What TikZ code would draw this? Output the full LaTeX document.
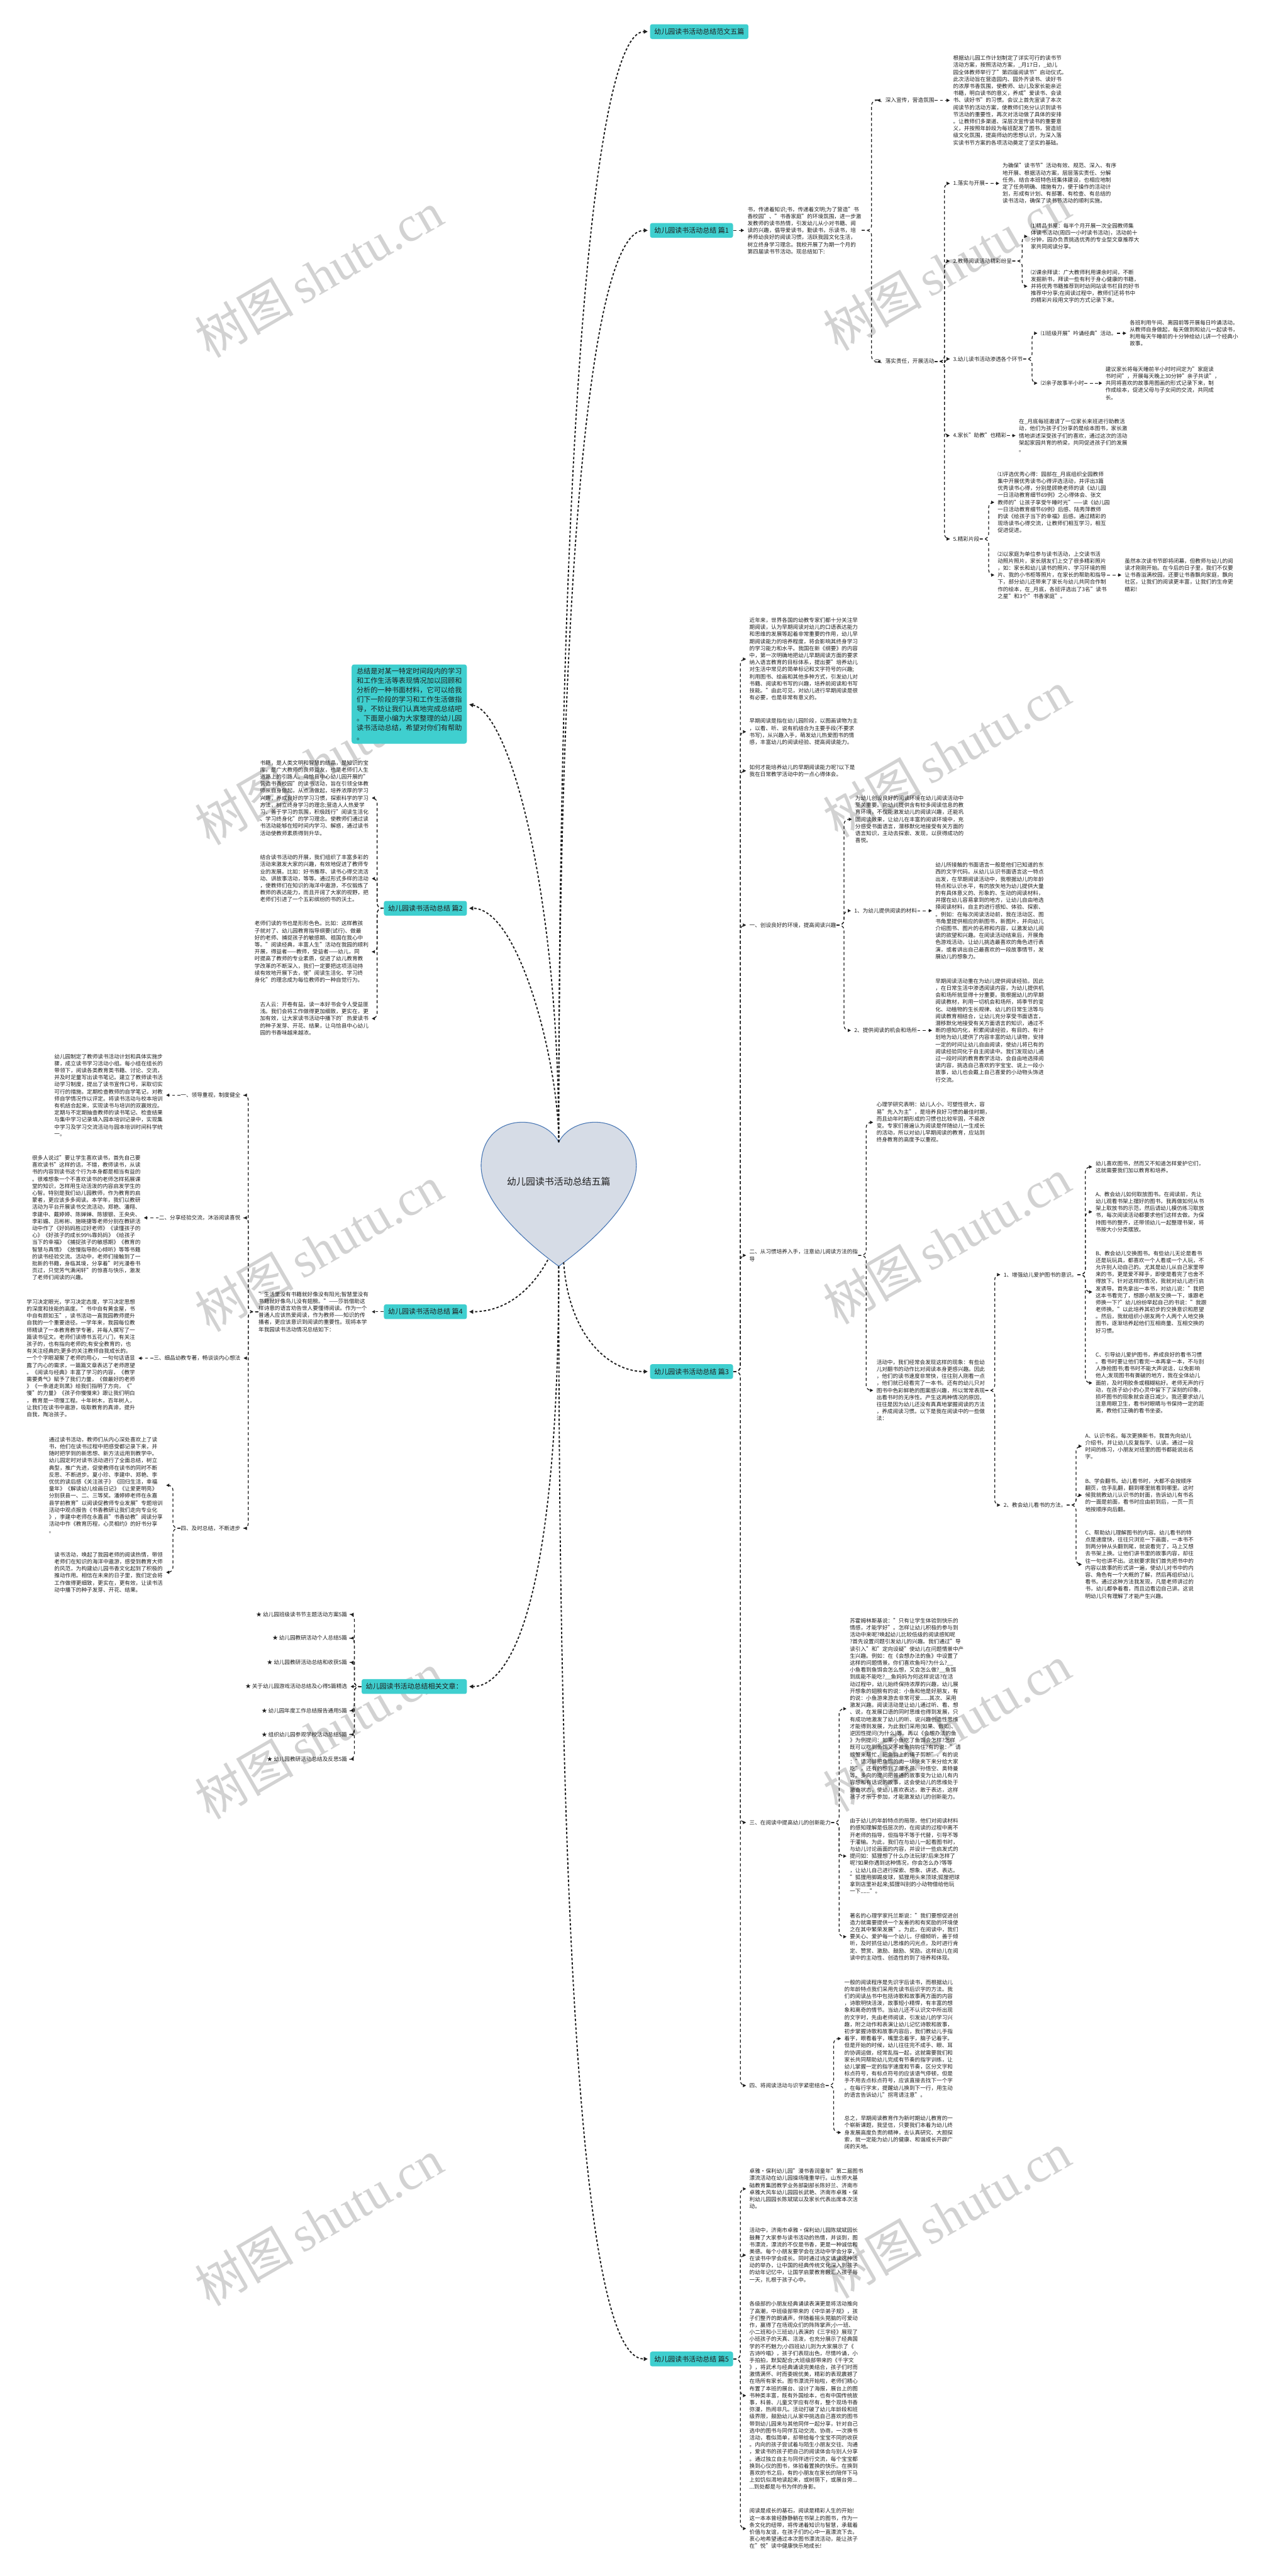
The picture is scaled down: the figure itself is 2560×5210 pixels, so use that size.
\documentclass[tikz,border=0pt]{standalone}
\usepackage{fontspec}
\setmainfont{Noto Sans CJK SC}
\newfontfamily\wmfont{Liberation Serif}
\usetikzlibrary{arrows.meta}
\definecolor{ink}{HTML}{1E1E1E}
\definecolor{topicbg}{HTML}{3FCFCF}
\definecolor{heartbg}{HTML}{D6DCE6}
\definecolor{heartln}{HTML}{4A78B5}
\definecolor{wmgray}{HTML}{D2D2D2}
\tikzset{
  body/.style={font=\fontsize{2.74pt}{3.56pt}\selectfont, text=ink, align=left, inner sep=0pt},
  rtxt/.style={body, anchor=west},
  ltxt/.style={body, anchor=east},
  topic/.style={fill=topicbg, rounded corners=1pt, text=ink, font=\fontsize{3.5pt}{4.2pt}\selectfont, inner xsep=2.1pt, inner ysep=2.1pt},
  link/.style={draw=ink, line width=0.4pt, dash pattern=on 1.5pt off 1.2pt, rounded corners=2.5pt, shorten >=1.5pt, -{Triangle[length=1.6pt,width=1.6pt]}},
  trunk/.style={draw=ink, line width=0.6pt, dash pattern=on 1.2pt off 1pt, shorten >=1pt, -{Triangle[length=2pt,width=2pt]}},
  rbr/.style={to path={-- ++(#1,0) |- (\tikztotarget)}},
  lbr/.style={to path={-- ++(-#1,0) |- (\tikztotarget)}},
  wm/.style={text=wmgray, rotate=30, font=\fontsize{25pt}{30pt}\selectfont},
}

\begin{document}
\begin{tikzpicture}[x=0.25pt, y=-0.25pt]
  \useasboundingbox (0,0) rectangle (2560,5210);
  \fill[white] (0,0) rectangle (2560,5210);
  % watermark
  \foreach \wy in {540,1525,2510,3495,4480} {
    \node[wm] at (1915,\wy) {树图\,{\wmfont shutu.cn}};
    \node[wm] at (645,\wy+15) {树图\,{\wmfont shutu.cn}};
  }

  % heart
  \coordinate (htop) at (1130,2310);
  \coordinate (hbot) at (1130,2561);
  \coordinate (hbl) at (1108,2548);
  \coordinate (hbr) at (1140,2553);
  \filldraw[fill=heartbg, draw=heartln, line width=0.35pt] (htop)
    .. controls (1100,2250) and (975,2250) .. (973,2357)
    .. controls (973,2430) and (1060,2510) .. (hbot)
    .. controls (1200,2510) and (1287,2430) .. (1287,2357)
    .. controls (1285,2250) and (1160,2250) .. cycle;
  \node[text=ink, font=\fontsize{4.75pt}{5.7pt}\selectfont] (hub) at (1130,2390) {幼儿园读书活动总结五篇};

  % main topics
  \node[topic, anchor=west] (t0) at (1314,64) {幼儿园读书活动总结范文五篇};
  \node[topic, anchor=west] (t1) at (1314,466) {幼儿园读书活动总结 篇1};
  \node[topic, anchor=west] (t3) at (1314,2774) {幼儿园读书活动总结 篇3};
  \node[topic, anchor=west] (t5) at (1314,4771) {幼儿园读书活动总结 篇5};
  \node[topic, anchor=east] (t2) at (945,1837) {幼儿园读书活动总结 篇2};
  \node[topic, anchor=east] (t4) at (945,2653) {幼儿园读书活动总结 篇4};
  \node[topic, anchor=east] (rel) at (945,3411) {幼儿园读书活动总结相关文章：};
  \node[topic, anchor=east, align=left, font=\fontsize{3.55pt}{4.75pt}\selectfont, inner xsep=2.5pt, inner ysep=1.8pt, rounded corners=1.2pt] (sum) at (945,1424) {总结是对某一特定时间段内的学习\\和工作生活等表现情况加以回顾和\\分析的一种书面材料，它可以给我\\们下一阶段的学习和工作生活做指\\导，不妨让我们认真地完成总结吧\\。下面是小编为大家整理的幼儿园\\读书活动总结，希望对你们有帮助\\。};

  \draw[trunk] (htop) .. controls (1130,900) and (1200,64) .. (t0.west);
  \draw[trunk] (htop) .. controls (1130,1200) and (1190,466) .. (t1.west);
  \draw[trunk] (htop) .. controls (1130,1800) and (1030,1440) .. (sum.east);
  \draw[trunk] (htop) .. controls (1130,2150) and (1050,1837) .. (t2.east);
  \draw[trunk] (hbl) .. controls (1080,2600) and (1030,2653) .. (t4.east);
  \draw[trunk] (hbot) .. controls (1130,3250) and (1030,3411) .. (rel.east);
  \draw[trunk] (hbr) .. controls (1150,2700) and (1230,2774) .. (t3.west);
  \draw[trunk] (hbot) .. controls (1130,4500) and (1230,4771) .. (t5.west);

  % 篇1
  \node[rtxt] (p1) at (1511,466) {书，传递着知识;书，传递着文明;为了营造"书\\香校园"、"书香家庭"的环境氛围，进一步激\\发教师的读书热情，引发幼儿从小对书籍、阅\\读的兴趣，倡导爱读书，勤读书，乐读书，培\\养师幼良好的阅读习惯，活跃我园文化生活，\\树立终身学习理念。我校开展了为期一个月的\\第四届读书节活动。现总结如下:};
  \node[rtxt] (p1a) at (1768,203) {一、深入宣传，营造氛围};
  \node[rtxt] (p1b) at (1768,731) {二、落实责任，开展活动};
  \node[rtxt] (p1at) at (1927,203) {根据幼儿园工作计划制定了详实可行的读书节\\活动方案，按照活动方案，\_月17日，\_幼儿\\园全体教师举行了"第四届阅读节"启动仪式。\\此次活动旨在营造园内、园外齐读书、读好书\\的浓厚书香氛围，使教师、幼儿及家长能亲近\\书籍，明白读书的意义，养成"爱读书、会读\\书、读好书"的习惯。会议上首先宣读了本次\\阅读节的活动方案，使教师们充分认识到读书\\节活动的重要性，再次对活动做了具体的安排\\。让教师们多渠道、深层次宣传读书的重要意\\义，并按照年龄段为每班配发了图书，营造班\\级文化氛围，提高师幼的思想认识，为深入落\\实读书节方案的各项活动奠定了坚实的基础。};
  \node[rtxt] (b1) at (1927,371) {1.落实与开展};
  \node[rtxt] (b1t) at (2027,371) {为确保"读书节"活动有效、规范、深入、有序\\地开展、根据活动方案，层层落实责任、分解\\任务。结合本班特色班集体建设，也相应地制\\定了任务明确、措施有力，便于操作的活动计\\划，形成有计划、有部署、有检查、有总结的\\读书活动，确保了读书节活动的顺利实施。};
  \node[rtxt] (b2) at (1927,528) {2.教师阅读活动精彩纷呈};
  \node[rtxt] (b2a) at (2084,478) {⑴精品书屋：每半个月开展一次全园教师集\\体读书活动(周四一小时读书活动)，活动前十\\分钟，园办负责挑选优秀的专业型文章推荐大\\家共同阅读分享。};
  \node[rtxt] (b2b) at (2084,579) {⑵课余拜读：广大教师利用课余时间，不断\\发掘新书，拜读一些有利于身心健康的书籍，\\并将优秀书籍推荐到时幼网站读书栏目的好书\\推荐中分享;在阅读过程中，教师们还将书中\\的精彩片段用文字的方式记录下来。};
  \node[rtxt] (b3) at (1927,726) {3.幼儿读书活动渗透各个环节};
  \node[rtxt] (b3a) at (2104,674) {⑴班级开展"吟诵经典"活动。};
  \node[rtxt] (b3at) at (2284,674) {各班利用午间、离园前等开展每日吟诵活动。\\从教师自身做起，每天做到和幼儿一起读书，\\利用每天午睡前的十分钟给幼儿讲一个经典小\\故事。};
  \node[rtxt] (b3b) at (2104,775) {⑵亲子故事半小时};
  \node[rtxt] (b3bt) at (2235,775) {建议家长将每天睡前半小时时间定为"家庭读\\书时间"，开展每天晚上30分钟"亲子共读"，\\共同将喜欢的故事用图画的形式记录下来，制\\作成绘本，促进父母与子女间的交流，共同成\\长。};
  \node[rtxt] (b4) at (1927,881) {4.家长"助教"也精彩};
  \node[rtxt] (b4t) at (2060,881) {在\_月底每班邀请了一位家长来班进行助教活\\动，他们为孩子们分享的是绘本图书，家长激\\情地讲述深受孩子们的喜欢，通过这次的活动\\架起家园共育的桥梁，共同促进孩子们的发展\\。};
  \node[rtxt] (b5) at (1927,1090) {5.精彩片段};
  \node[rtxt] (b5a) at (2017,1016) {⑴评选优秀心得：园部在\_月底组织全园教师\\集中开展优秀读书心得评选活动，并评出3篇\\优秀读书心得，分别是顾艳老师的读《幼儿园\\一日活动教育细节69例》之心得体会、张文\\教师的"让孩子享受午睡时光"——读《幼儿园\\一日活动教育细节69例》后感、陆秀萍教师\\的读《给孩子当下的幸福》后感。通过精彩的\\现场读书心得交流，让教师们相互学习，相互\\促进促进。};
  \node[rtxt] (b5b) at (2017,1163) {⑵以家庭为单位参与读书活动，上交读书活\\动照片照片，家长朋友们上交了很多精彩照片\\，如：家长和幼儿读书的照片、学习环境的照\\片、我的小书柜等照片，在家长的帮助和指导\\下，部分幼儿还带来了家长与幼儿共同合作制\\作的绘本，在\_月底，各班评选出了3名"读书\\之星"和3个"书香家庭"。};
  \node[rtxt] (b5c) at (2274,1163) {虽然本次读书节即将闭幕，但教师与幼儿的阅\\读才刚刚开始。在今后的日子里，我们不仅要\\让书香溢满校园，还要让书香飘向家庭，飘向\\社区，让我们的阅读更丰富，让我们的生命更\\精彩!};

  \draw[link] (t1.east) -- (p1.west);
  \foreach \kid in {p1a,p1b} \draw[link] (p1.east) to[rbr=20] (\kid.west);
  \draw[link] (p1a.east) -- (p1at.west);
  \foreach \kid in {b1,b2,b3,b4,b5} \draw[link] (p1b.east) to[rbr=20] (\kid.west);
  \draw[link] (b1.east) -- (b1t.west);
  \foreach \kid in {b2a,b2b} \draw[link] (b2.east) to[rbr=20] (\kid.west);
  \foreach \kid in {b3a,b3b} \draw[link] (b3.east) to[rbr=18] (\kid.west);
  \draw[link] (b3a.east) -- (b3at.west);
  \draw[link] (b3b.east) -- (b3bt.west);
  \draw[link] (b4.east) -- (b4t.west);
  \foreach \kid in {b5a,b5b} \draw[link] (b5.east) to[rbr=18] (\kid.west);
  \draw[link] (b5b.east) -- (b5c.west);

  % 篇3
  \node[rtxt] (c1) at (1515,1333) {近年来，世界各国的幼教专家们都十分关注早\\期阅读，认为早期阅读对幼儿的口语表达能力\\和思维的发展等起着非常重要的作用，幼儿早\\期阅读能力的培养程度，将会影响其终身学习\\的学习能力和水平。我国在新《纲要》的内容\\中，第一次明确地把幼儿早期阅读方面的要求\\纳入语言教育的目标体系，提出要"培养幼儿\\对生活中常见的简单标记和文字符号的兴趣;\\利用图书、绘画和其他多种方式，引发幼儿对\\书籍、阅读和书写的兴趣，培养前阅读和书写\\技能。"由此可见，对幼儿进行早期阅读是很\\有必要，也是非常有意义的。};
  \node[rtxt] (c2) at (1515,1480) {早期阅读是指在幼儿园阶段，以图画读物为主\\，以看、听、说有机结合为主要手段(不要求\\书写)，从兴趣入手，萌发幼儿热爱图书的情\\感，丰富幼儿的阅读经验、提高阅读能力。};
  \node[rtxt] (c3) at (1515,1559) {如何才能培养幼儿的早期阅读能力呢?以下是\\我在日常教学活动中的一点心得体会。};
  \node[rtxt] (c4) at (1515,1871) {一、创设良好的环境，提高阅读兴趣};
  \node[rtxt] (c4a) at (1729,1657) {为幼儿创设良好的阅读环境在幼儿阅读活动中\\至关重要。向幼儿提供含有较多阅读信息的教\\育环境，不仅能激发幼儿的阅读兴趣，还能巩\\固阅读效果，让幼儿在丰富的阅读环境中，充\\分感受书面语言，潜移默化地接受有关方面的\\语言知识，主动去探索、发现，以获得成功的\\喜悦。};
  \node[rtxt] (c4b) at (1727,1842) {1、为幼儿提供阅读的材料};
  \node[rtxt] (c4bt) at (1891,1842) {幼儿所接触的书面语言一般是他们已知道的东\\西的文字代码。从幼儿认识书面语言这一特点\\出发，在早期阅读活动中，我根据幼儿的年龄\\特点和认识水平，有的放矢地为幼儿提供大量\\的有具体意义的、形象的、生动的阅读材料，\\并摆在幼儿容易拿到的地方，让幼儿自由地选\\择阅读材料，自主的进行感知、体验、探索、\\。例如：在每次阅读活动前，我在活动区、图\\书角里提供相应的新图书，新图片，并向幼儿\\介绍图书、图片的名称和内容，以激发幼儿阅\\读的欲望和兴趣。在阅读活动结束后，开展角\\色游戏活动，让幼儿挑选最喜欢的角色进行表\\演，或者讲出自己最喜欢的一段故事情节，发\\展幼儿的想象力。};
  \node[rtxt] (c4c) at (1727,2084) {2、提供阅读的机会和场所};
  \node[rtxt] (c4ct) at (1891,2084) {早期阅读活动重在为幼儿提供阅读经验。因此\\，在日常生活中渗透阅读内容，为幼儿提供机\\会和场所就显得十分重要。我根据幼儿的早期\\阅读教材，利用一切机会和场所，将季节的变\\化、动植物的生长规律、幼儿的日常生活等与\\阅读教育相结合，让幼儿充分享受书面语言，\\潜移默化地接受有关方面语言的知识，通过不\\断的感知内化，积累阅读经验，有目的、有计\\划地为幼儿提供了内容丰富的幼儿读物，安排\\一定的时间让幼儿自由阅读，使幼儿将已有的\\阅读经验同化于自主阅读中。我们发现幼儿通\\过一段时间的教育教学活动，会自由地选择阅\\读内容，挑选自己喜欢的字宝宝、说上一段小\\故事，幼儿也会戴上自己喜爱的小动物头饰进\\行交流。};
  \node[rtxt] (c5) at (1515,2539) {二、从习惯培养入手，注意幼儿阅读方法的指\\导};
  \node[rtxt] (c5a) at (1772,2270) {心理学研究表明：幼儿人小，可塑性很大，容\\易"先入为主"，是培养良好习惯的最佳时期，\\而且幼年时期形成的习惯也比较牢固，不易改\\变。专家们普遍认为阅读是伴随幼儿一生成长\\的活动，所以对幼儿早期阅读的教育，应站到\\终身教育的高度予以重视。};
  \node[rtxt] (c5b) at (1772,2812) {活动中，我们经常会发现这样的现象：有些幼\\儿对翻书的动作比对阅读本身更感兴趣。因此\\，他们的读书速度非常快，往往别人刚看一点\\，他们就已经看完了一本书。还有的幼儿只对\\图书中色彩鲜艳的图案感兴趣，所以常常表现\\出看书时的无序性。产生这两种情况的原因，\\往往是因为幼儿还没有真真地掌握阅读的方法\\，养成阅读习惯。以下是我在阅读中的一些做\\法：};
  \node[rtxt] (c6) at (2029,2578) {1、增强幼儿爱护图书的意识。};
  \node[rtxt] (c6a) at (2215,2360) {幼儿喜欢图书，然而又不知道怎样爱护它们，\\这就需要我们加以教育和培养。};
  \node[rtxt] (c6b) at (2215,2451) {A、教会幼儿如何取放图书。在阅读前，先让\\幼儿观看书架上摆好的图书，我再做如何从书\\架上取放书的示范，然后请幼儿模仿练习取放\\书，每次阅读活动都要求他们这样去做。为保\\持图书的整齐，还带领幼儿一起整理书架，将\\书按大小分类摆放。};
  \node[rtxt] (c6c) at (2215,2613) {B、教会幼儿交换图书。有些幼儿无论是看书\\还是玩玩具，都喜欢一个人看或一个人玩，不\\允许别人动自己的。尤其是幼儿从自己家里带\\来的书，更是爱不释手，即使是看完了也舍不\\得放下。针对这样的情况，我就对幼儿进行启\\发诱导。首先拿出一本书，对幼儿说："我把\\这本书看完了，想跟小朋友交换一下，谁跟老\\师换一下?"幼儿纷纷举起自己的书说："我跟\\老师换。"以此培养其初步的交换意识和愿望\\。然后，我就组织小朋友两个人两个人地交换\\图书，逐渐培养起他们互相商量、互相交换的\\好习惯。};
  \node[rtxt] (c6d) at (2215,2797) {C、引导幼儿爱护图书，养成良好的看书习惯\\。看书时要让他们看完一本再拿一本，不与别\\人挣抢图书;看书时不能大声说话，以免影响\\他人;发现图书有撕破的地方，我在全体幼儿\\面前，及时用胶条或糨糊粘好。老师无声的行\\动，在孩子幼小的心灵中留下了深刻的印象，\\损坏图书的现象就会逐日减少。我还要求幼儿\\注意用眼卫生，看书时眼睛与书保持一定的距\\离，教他们正确的看书坐姿。};
  \node[rtxt] (c7) at (2029,3044) {2、教会幼儿看书的方法。};
  \node[rtxt] (c7a) at (2194,2925) {A、认识书名。每次更换新书，我首先向幼儿\\介绍书，并让幼儿反复指字、认读。通过一段\\时间的练习，小朋友对班里的图书都能说出名\\字。};
  \node[rtxt] (c7b) at (2194,3024) {B、学会翻书。幼儿看书时，大都不会按顺序\\翻页，信手乱翻，翻到哪里就看到哪里。这时\\候我就教幼儿认识书的封面，告诉幼儿有书名\\的一面是前面，看书时应由前到后，一页一页\\地按顺序向后翻。};
  \node[rtxt] (c7c) at (2194,3164) {C、帮助幼儿理解图书的内容。幼儿看书的特\\点是速度快，往往只浏览一下画面，一本书不\\到两分钟从头翻到尾，就说看完了，马上又想\\去书架上换。让他们讲书里的故事内容，却往\\往一句也讲不出。这就要求我们首先把书中的\\内容以故事的形式讲一遍，使幼儿对书中的内\\容、角色有一个大概的了解，然后再组织幼儿\\看书。通过这种方法我发现，凡是老师讲过的\\书，幼儿都争着看，而且边看边自己讲。这说\\明幼儿只有理解了才能产生兴趣。};
  \node[rtxt] (c8) at (1515,3686) {三、在阅读中提高幼儿的创新能力};
  \node[rtxt] (c8a) at (1718,3456) {苏霍姆林斯基说："只有让学生体验到快乐的\\情感，才能学好"。怎样让幼儿积极的参与到\\活动中来呢?唤起幼儿比较低级的阅读感知呢\\?首先设置问题引发幼儿的兴趣。我们通过"导\\读引入"和"定向设疑"使幼儿在问题情景中产\\生兴趣。例如：在《会想办法的鱼》中设置了\\这样的问题情景。你们喜欢鱼吗?为什么?\_\_\\小鱼看到鱼饵会怎么想，又会怎么做?\_\_鱼饵\\到底能不能吃?\_\_鱼妈妈为何这样说话?在活\\动过程中，幼儿始终保持浓厚的兴趣，幼儿展\\开想象的翅膀有的说：小鱼和他是好朋友，有\\的说：小鱼游来游去非常可爱......其次、采用\\激发兴趣。阅读活动是让幼儿通过听、看、想\\、说，在发展口语的同时思维也得到发展，只\\有成功地激发了幼儿的听、说兴趣创造性思维\\才能得到发展，为此我们采用(如果、假如)、\\逆因性提问(为什么)等。再以《会想办法的鱼\\》为例提问：如果小鱼吃了鱼饵会怎样?怎样\\既可以吃到鱼饵又不被鱼钩钩住?有的说："请\\螃蟹来帮忙，把鱼钩上的绳子剪断"，有的说\\："请河蚌把鱼饵的肉一块块夹下来分给大家\\吃"，还有的想到了潜水员、孙悟空、奥特曼\\等。多向的提问把普通的故事变为让幼儿有内\\容想和有话说的故事，这会使幼儿的思维处于\\激奋状态，使幼儿喜欢表达，敢于表达，这样\\孩子才乐于参加，才能激发幼儿的创新能力。};
  \node[rtxt] (c8b) at (1718,3754) {由于幼儿的年龄特点的局限，他们对阅读材料\\的感知理解是低层次的，在阅读的过程中离不\\开老师的指导，但指导不等于代替，引导不等\\于灌输。为此，我们在与幼儿一起看图书时，\\与幼儿讨论画面的内容，并设计一些启发式的\\提问如：狐狸想了什么办法玩球?后来怎样了\\呢?如果你遇到这种情况，你会怎么办?等等\\，让幼儿自己进行探索、想象、讲述、表达。\\"狐狸用脚踢皮球，狐狸用头来顶球;狐狸把球\\拿到店里补起来;狐狸叫别的小动物借给他玩\\一下......"。};
  \node[rtxt] (c8c) at (1718,3917) {著名的心理学家托兰斯说："我们要想促进创\\造力就需要提供一个友善的和有奖励的环境使\\之在其中繁荣发展"。为此，在阅读中，我们\\要关心、爱护每一个幼儿，仔细倾听，善于倾\\听，及时抓住幼儿思维的闪光点，及时进行肯\\定、赞赏、激励、鼓励、奖励。这样幼儿在阅\\读中的主动性、创造性的到了培养和体现。};
  \node[rtxt] (c9) at (1515,4218) {四、将阅读活动与识字紧密结合};
  \node[rtxt] (c9a) at (1707,4123) {一般的阅读程序是先识字后读书，而根据幼儿\\的年龄特点我们采用先读书后识字的方法。我\\们的阅读丛书中包括诗歌和故事两方面的内容\\，诗歌明快活泼，故事短小精悍，有丰富的想\\象和离奇的情节。当幼儿还不认识文中所出现\\的文字时，先由老师阅读，引发幼儿的学习兴\\趣，附之动作和表演让幼儿记忆诗歌和故事，\\初步掌握诗歌和故事内容后，我们教幼儿手指\\着字，眼看着字，嘴里念着字，脑子记着字。\\但是开始的时候，幼儿往往完不成手、眼、耳\\的协调运做，经常乱指一起，这就需要我们和\\家长共同帮助幼儿完成有节奏的指字训练，让\\幼儿掌握一定的指字速度和节奏，区分文字和\\标点符号，有标点符号的应该语气停顿，但是\\手不用去点标点符号，应该直接去找下一个字\\。在每行字末，提醒幼儿换到下一行，用生动\\的语言告诉幼儿"拐弯请注意"。};
  \node[rtxt] (c9b) at (1707,4313) {总之，早期阅读教育作为新时期幼儿教育的一\\个崭新课题，我坚信，只要我们本着为幼儿终\\身发展高度负责的精神，去认真研究、大胆探\\索，就一定能为幼儿的健康、和谐成长开辟广\\阔的天地。};

  \foreach \kid in {c1,c2,c3,c4,c5,c8,c9} \draw[link] (t3.east) to[rbr=14] (\kid.west);
  \foreach \kid in {c4a,c4b,c4c} \draw[link] (c4.east) to[rbr=15] (\kid.west);
  \draw[link] (c4b.east) -- (c4bt.west);
  \draw[link] (c4c.east) -- (c4ct.west);
  \foreach \kid in {c5a,c5b} \draw[link] (c5.east) to[rbr=16] (\kid.west);
  \foreach \kid in {c6,c7} \draw[link] (c5b.east) to[rbr=19] (\kid.west);
  \foreach \kid in {c6a,c6b,c6c,c6d} \draw[link] (c6.east) to[rbr=16] (\kid.west);
  \foreach \kid in {c7a,c7b,c7c} \draw[link] (c7.east) to[rbr=19] (\kid.west);
  \foreach \kid in {c8a,c8b,c8c} \draw[link] (c8.east) to[rbr=16] (\kid.west);
  \foreach \kid in {c9a,c9b} \draw[link] (c9.east) to[rbr=16] (\kid.west);

  % 篇5
  \node[rtxt] (e1) at (1515,4427) {卓雅·保利幼儿园"漫书香润童年"第二届图书\\漂流活动在幼儿园操场隆重举行。山东师大基\\础教育集团教学业务部副部长陈好兰、济南市\\卓雅大风车幼儿园园长武艳、济南市卓雅·保\\利幼儿园园长陈斌斌以及家长代表出席本次活\\动。};
  \node[rtxt] (e2) at (1515,4561) {活动中，济南市卓雅·保利幼儿园陈斌斌园长\\鼓舞了大家参与读书活动的热情，并谈到，图\\书漂流，漂流的不仅是书香，更是一种诚信和\\美德。每个小朋友要学会在活动中学会分享，\\在读书中学会成长。同时通过诗文诵读这种活\\动的举办，让中国的经典传统文化深入到孩子\\的幼年记忆中，让国学启蒙教育融汇入孩子每\\一天，扎根于孩子心中。};
  \node[rtxt] (e3) at (1515,4845) {各级部的小朋友经典诵读表演更是将活动推向\\了高潮，中班级部带来的《中华弟子规》，孩\\子们整齐的朗诵声，伴随着摇头晃脑的可爱动\\作，赢得了在场观众们的阵阵掌声;小一班、\\小二班和小三班幼儿表演的《三字经》展现了\\小班孩子的天真、活泼，也充分展示了经典国\\学的不朽魅力;小四班幼儿则为大家展示了《\\古诗吟唱》，孩子们表现出色，尽情吟诵，小\\手拍拍，默契配合;大班级部带来的《千字文\\》，将武术与经典诵读完美结合，孩子们时而\\激情满怀、时而委婉优美，精彩的表现震撼了\\在场所有家长。图书漂流开始啦，老师们精心\\布置了本班的展台、设计了海报，展台上的图\\书种类丰富，既有外国绘本，也有中国传统故\\事，科普、儿童文学应有尽有，整个现场书香\\弥漫，热闹非凡。活动打破了幼儿年龄段和班\\级界限，鼓励幼儿从家中挑选自己喜欢的图书\\带到幼儿园来与其他同伴一起分享，针对自己\\选中的图书与同伴互动交流、协商，一次换书\\活动，看似简单，却带给每个宝宝不同的收获\\。内向的孩子尝试着与陌生小朋友交往、沟通\\，爱读书的孩子把自己的阅读体会与别人分享\\。通过独立自主与同伴进行交流，每个宝宝都\\换到心仪的图书，体验着置换的快乐。在换到\\喜欢的书之后，有的小朋友在家长的陪伴下马\\上如饥似渴地读起来，或树荫下，或展台旁...\\...到处都是与书为伴的身影。};
  \node[rtxt] (e4) at (1515,5114) {阅读是成长的基石，阅读是精彩人生的开始!\\这一本本曾经静静躺在书架上的图书，作为一\\条文化的纽带，将传递着知识与智慧，承载着\\价值与友谊，在孩子们的心中一直漂流下去。\\衷心地希望通过本次图书漂流活动，能让孩子\\在"悦"读中健康快乐地成长!};
  \foreach \kid in {e1,e2,e3,e4} \draw[link] (t5.east) to[rbr=14] (\kid.west);

  % 篇2
  \node[ltxt] (k1) at (746,1614) {书籍，是人类文明和智慧的结晶，是知识的宝\\库，是广大教师的良师益友，也是老师们人生\\道路上的引路人。乌恰县中心幼儿园开展的"\\营造书香校园"的读书活动，旨在引领全体教\\师从自身做起，从点滴做起，培养浓厚的学习\\兴趣，养成良好的学习习惯，探索科学的学习\\方法，树立终身学习的理念;营造人人热爱学\\习、善于学习的氛围，积极践行"阅读生活化\\、学习终身化"的学习理念。使教师们通过读\\书活动能够在短时间内学习、解惑，通过读书\\活动使教师素质得到升华。};
  \node[ltxt] (k2) at (746,1777) {结合读书活动的开展，我们组织了丰富多彩的\\活动来激发大家的兴趣，有效地促进了教师专\\业的发展。比如：好书推荐、读书心得交流活\\动、讲故事活动，等等。通过形式多样的活动\\，使教师们在知识的海洋中遨游，不仅锻炼了\\教师的表达能力，而且开阔了大家的视野，把\\老师们引进了一个五彩缤纷的书的沃土。};
  \node[ltxt] (k3) at (746,1925) {老师们读的书也是形形色色。比如：这样教孩\\子就对了、幼儿园教育指导纲要(试行)、做最\\好的老师、捕捉孩子的敏感期、祖国在我心中\\等。"阅读经典，丰富人生"活动在我园的顺利\\开展，得益者——教师，受益者——幼儿，同\\时提高了教师的专业素质，促进了幼儿教育教\\学改革的不断深入，我们一定要把这项活动持\\续有效地开展下去，使"阅读生活化、学习终\\身化"的理念成为每位教师的一种自觉行为。};
  \node[ltxt] (k4) at (746,2060) {古人云：开卷有益。读一本好书会令人受益匪\\浅。我们会将工作做得更加细致，更实在，更\\加有效，让大家读书活动中播下的'热爱读书\\的种子发芽、开花、结果，让乌恰县中心幼儿\\园的书香味越来越浓。};
  \foreach \kid in {k1,k2,k3,k4} \draw[link] (t2.west) to[lbr=13] (\kid.east);

  % 篇4
  \node[ltxt] (m0) at (746,2653) {"生活里没有书籍就好像没有阳光;智慧里没有\\书籍就好像鸟儿没有翅膀。"——莎翁借助这\\样诗意的语言劝告世人要懂得阅读。作为一个\\普通人应该热爱阅读，作为教师——知识的传\\播者，更应该意识到阅读的重要性。现将本学\\年我园读书活动情况总结如下：};
  \node[ltxt] (n1) at (487,2215) {一、领导重视，制度健全};
  \node[ltxt] (n1t) at (330,2215) {幼儿园制定了教师读书活动计划和具体实施步\\骤，成立读书学习活动小组。每小组在组长的\\带领下，阅读各类教育类书籍、讨论、交流，\\并及时足量写出读书笔记。建立了教师读书活\\动学习制度，提出了读书宣传口号，采取切实\\可行的措施。定期检查教师的自学笔记，对教\\师自学情况作以评定。将读书活动与校本培训\\有机结合起来，实现读书与培训的双赢效应。\\定期与不定期抽查教师的读书笔记、检查结果\\与集中学习记录填入园本培训记录中，实现集\\中学习及学习交流活动与园本培训时间科学统\\一。};
  \node[ltxt] (n2) at (487,2463) {二、分享经验交流，沐浴阅读喜悦};
  \node[ltxt] (n2t) at (285,2463) {很多人说过"要让学生喜欢读书，首先自己要\\喜欢读书"这样的话，不错，教师读书，从读\\书的内容到读书这个行为本身都是相当有益的\\。很难想象一个不喜欢读书的老师怎样拓展课\\堂的知识，怎样用生动活泼的内容启发学生的\\心智。特别是我们幼儿园教师，作为教育的启\\蒙者，更应该多多阅读。本学年，我们以教研\\活动为平台开展读书交流活动，郑艳、潘翔、\\李建中、戴婷婷、陈婵婵、陈银银、王央央、\\李彩媚、吕彬彬、施晓捷等老师分别在教研活\\动中作了《好妈妈胜过好老师》《读懂孩子的\\心》《好孩子的成长99\%靠妈妈》《给孩子\\当下的幸福》《捕捉孩子的敏感期》《教育的\\智慧与真情》《放慢指导耐心倾听》等等书籍\\的读书经验交流。活动中，老师们接触到了一\\批新的书籍，身临其境，分享着"时光漫卷书\\页过，只觉芳气满闲轩"的惊喜与快乐，激发\\了老师们阅读的兴趣。};
  \node[ltxt] (n3) at (487,2747) {三、细品幼教专著，畅谈谈内心想法};
  \node[ltxt] (n3t) at (274,2747) {学习决定眼光，学习决定态度，学习决定思想\\的深度和技能的高度。"书中自有黄金屋，书\\中自有颜如玉"，读书活动一直我园教师提升\\自我的一个重要途径。一学年来，我园每位教\\师精读了一本教育教学专著，并每人撰写了一\\篇读书征文。老师们读得书五花八门，有关注\\孩子的，也有指向老师的;有安全教育的，也\\有关注经典的;更多的关注教师自我成长的。\\一个个字眼凝聚了老师的用心，一句句话语显\\露了内心的需求，一篇篇文章表达了老师愿望\\。《阅读与经典》丰富了学习的内容，《教学\\需要勇气》赋予了我们力量，《做最好的老师\\》《一条道走到黑》给我们指明了方向，《"\\慢"的力量》《孩子你慢慢来》跟让我们明白\\，教育是一项慢工程。十年树木，百年树人，\\让我们在读书中遨游，吸取教育的真谛，提升\\自我，陶冶孩子。};
  \node[ltxt] (n4) at (487,3091) {四、及时总结，不断进步};
  \node[ltxt] (n4a) at (330,3004) {通过读书活动，教师们从内心深处喜欢上了读\\书，他们在读书过程中把感受都记录下来，并\\随时把学到的新思想、新方法运用到教学中。\\幼儿园定时对读书活动进行了全面总结，树立\\典型，推广先进，促使教师在读书的同时不断\\反思、不断进步。夏小珍、李建中、郑艳、李\\优优的读后感《关注孩子》《回归生活，幸福\\童年》《解读幼儿绘画日记》《让爱更明亮》\\分别获县一、二、三等奖。潘婷婷老师在永嘉\\县学前教育"以阅读促教师专业发展"专题培训\\活动中观点报告《书香教研让我们走向专业化\\》，李建中老师在永嘉县"书香幼教"阅读分享\\活动中作《教育历程，心灵相约》的好书分享\\。};
  \node[ltxt] (n4b) at (330,3180) {读书活动，唤起了我园老师的阅读热情，带领\\老师们在知识的海洋中遨游，感受到教育大师\\的风范，为构建幼儿园书香文化起到了积极的\\推动作用。相信在未来的日子里，我们定会将\\工作做得更细致，更实在，更有效，让读书活\\动中播下的种子发芽、开花、结果。};

  \draw[link] (t4.west) -- (m0.east);
  \foreach \kid in {n1,n2,n3,n4} \draw[link] (m0.west) to[lbr=20] (\kid.east);
  \draw[link] (n1.west) -- (n1t.east);
  \draw[link] (n2.west) -- (n2t.east);
  \draw[link] (n3.west) -- (n3t.east);
  \foreach \kid in {n4a,n4b} \draw[link] (n4.west) to[lbr=15] (\kid.east);

  % related articles
  \node[ltxt] (r1) at (703,3265) {★ 幼儿园班级读书节主题活动方案5篇};
  \node[ltxt] (r2) at (703,3313) {★ 幼儿园教研活动个人总结5篇};
  \node[ltxt] (r3) at (703,3362) {★ 幼儿园教研活动总结和收获5篇};
  \node[ltxt] (r4) at (703,3411) {★ 关于幼儿园游戏活动总结及心得5篇精选};
  \node[ltxt] (r5) at (703,3460) {★ 幼儿园年度工作总结报告通用5篇};
  \node[ltxt] (r6) at (703,3508) {★ 组织幼儿园参观学校活动总结5篇};
  \node[ltxt] (r7) at (703,3558) {★ 幼儿园教研活动总结及反思5篇};
  \foreach \kid in {r1,r2,r3,r5,r6,r7} \draw[link] (rel.west) to[lbr=14] (\kid.east);
  \draw[link] (rel.west) -- (r4.east);
\end{tikzpicture}
\end{document}
